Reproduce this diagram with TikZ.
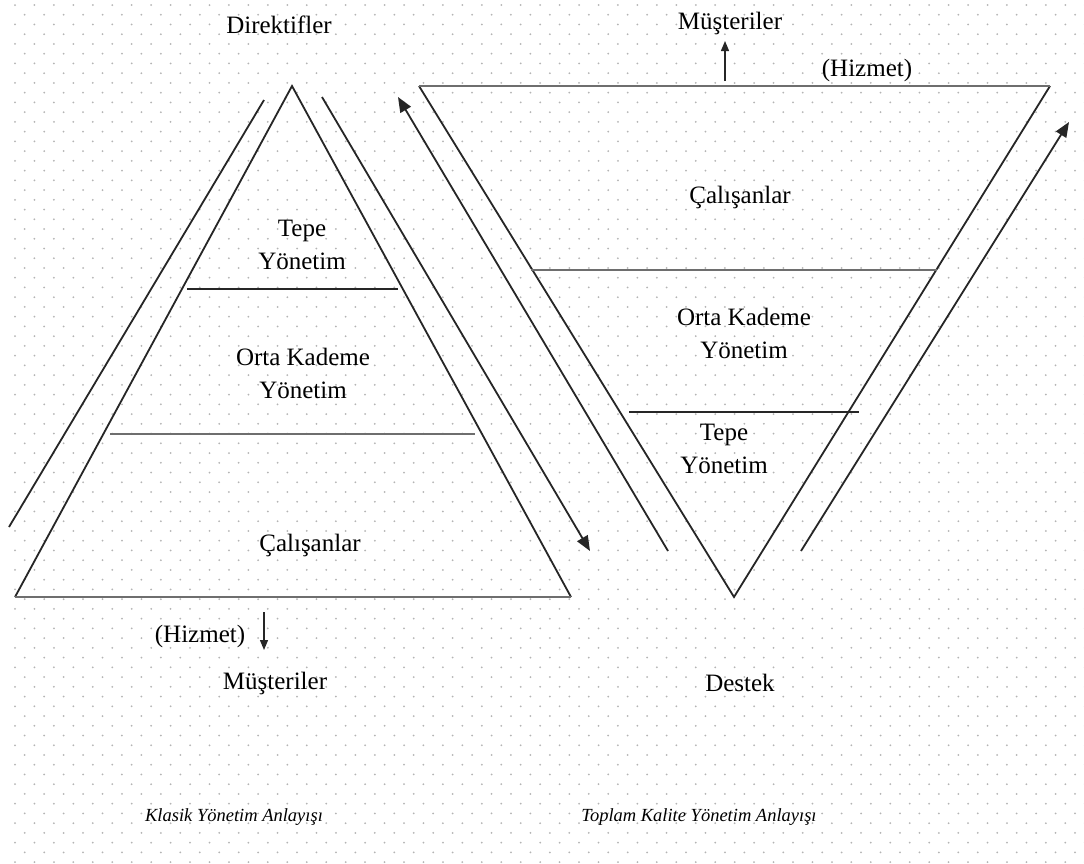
\documentclass[tikz,border=0pt]{standalone}
\usepackage{fontspec}
\setmainfont{Liberation Serif}
\usetikzlibrary{arrows.meta}
\definecolor{dotgray}{RGB}{180,180,180}
\definecolor{linegray}{RGB}{110,110,110}
\begin{document}
\begin{tikzpicture}[x=1pt,y=-1pt,
  edge/.style={line width=1.8pt,black!85},
  hline/.style={line width=1.6pt,black!85},
  gline/.style={line width=2.8pt,linegray},
  arr/.style={line width=1.8pt,black!85,-{Triangle[length=15pt,width=12pt]}},
  smallarr/.style={line width=1.3pt,black!85,-{Triangle[length=10pt,width=8pt]}},
  lbl/.style={font=\fontsize{25}{33}\selectfont,align=center,inner sep=0pt},
  captext/.style={font=\fontsize{18.5}{22}\selectfont\itshape,inner sep=0pt}]
\useasboundingbox (0,0) rectangle (1084,863);
\fill[white] (0,0) rectangle (1084,863);
% dotted background
\foreach \k in {0,...,88}{
  \pgfmathsetmacro\yy{5+9.74*\k}
  \pgfmathsetmacro\off{mod(\k,2)*9.72}
  \foreach \j in {0,...,55}{
    \fill[dotgray] ({15+\off+19.45*\j},\yy) circle (1.0);
  }
}
% ---------- left pyramid ----------
\coordinate (LA) at (292,86);
\coordinate (LB) at (15,597);
\coordinate (LC) at (571,597);
\draw[edge,line join=miter] (LB) -- (LA) -- (LC);
\draw[gline] (LB) -- (LC);
\coordinate (L1a) at (187,289); \coordinate (L1b) at (398,289);
\draw[hline] (L1a) -- (L1b);
\coordinate (L2a) at (110,434); \coordinate (L2b) at (475,434);
\draw[gline] (L2a) -- (L2b);
% parallel lines
\coordinate (PLa) at (264,100); \coordinate (PLb) at (9,527);
\draw[edge] (PLa) -- (PLb);
\coordinate (DAs) at (322,97); \coordinate (DAe) at (590,551);
\draw[arr] (DAs) -- (DAe);
\coordinate (UAs) at (668,551); \coordinate (UAe) at (398,97);
\draw[arr] (UAs) -- (UAe);
% labels
\node[lbl] (ltepe) at (302,245) {Tepe\\Yönetim};
\node[lbl] (lorta) at (303,373) {Orta Kademe\\Yönetim};
\node[lbl] (lcal) at (310,545) {Çalışanlar};
\node[lbl] (ldir) at (279,25) {Direktifler};
\node[lbl] (lhiz) at (200,636) {(Hizmet)};
\node[lbl] (lmus) at (275,683) {Müşteriler};
\coordinate (LDa) at (264,612); \coordinate (LDb) at (264,650);
\draw[smallarr] (LDa) -- (LDb);
% ---------- right inverted pyramid ----------
\coordinate (RA) at (419,86);
\coordinate (RB) at (1050,86);
\coordinate (RC) at (734,597);
\draw[edge] (RA) -- (RC) -- (RB);
\draw[gline] (RA) -- (RB);
\coordinate (R1a) at (531,270); \coordinate (R1b) at (937,270);
\draw[gline] (R1a) -- (R1b);
\coordinate (R2a) at (629,412); \coordinate (R2b) at (859,412);
\draw[hline] (R2a) -- (R2b);
\coordinate (RPa) at (801,551); \coordinate (RPb) at (1069,122);
\draw[arr] (RPa) -- (RPb);
\node[lbl] (rcal) at (740,197) {Çalışanlar};
\node[lbl] (rorta) at (744,333) {Orta Kademe\\Yönetim};
\node[lbl] (rtepe) at (724,449) {Tepe\\Yönetim};
\node[lbl] (rmus) at (730,23) {Müşteriler};
\node[lbl] (rhiz) at (867,70) {(Hizmet)};
\node[lbl] (rdes) at (740,683) {Destek};
\coordinate (RUa) at (725,81); \coordinate (RUb) at (725,41);
\draw[smallarr] (RUa) -- (RUb);
% captions
\node[captext] (capl) at (234,817) {Klasik Yönetim Anlayışı};
\node[captext] (capr) at (699,817) {Toplam Kalite Yönetim Anlayışı};
\end{tikzpicture}
\end{document}
